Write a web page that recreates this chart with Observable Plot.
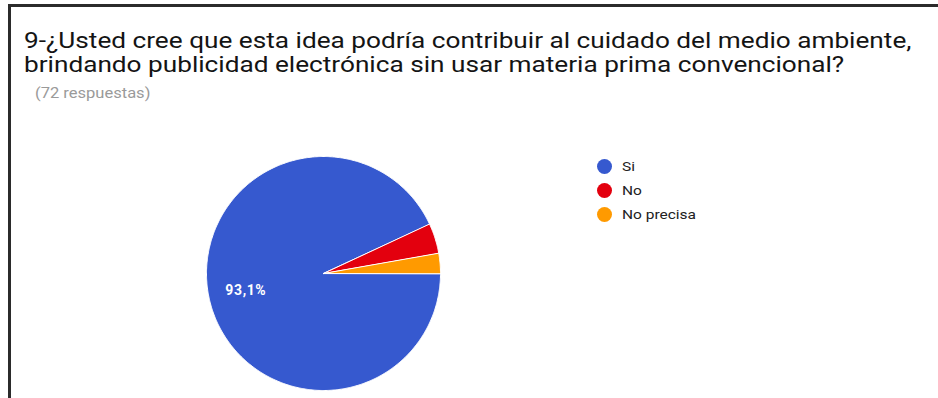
<!DOCTYPE html>
<html>
<head>
<meta charset="utf-8">
<script src="https://cdn.jsdelivr.net/npm/d3@7"></script>
<script src="https://cdn.jsdelivr.net/npm/@observablehq/plot@0.6"></script>
<style>
  html, body { margin: 0; padding: 0; background: #fff; }
  #wrap { position: relative; width: 938px; height: 398px; overflow: hidden; background: #fff; font-family: Roboto, "Liberation Sans", Arial, sans-serif; }
  #frame { position: absolute; left: 8px; top: 4px; right: -10px; bottom: -10px; border-top: 3px solid #2b2b2b; border-left: 3px solid #2b2b2b; }
  #title { position: absolute; left: 24px; top: 29px; font-size: 22px; line-height: 24px; color: #141414; white-space: nowrap; transform: scaleX(1.19); transform-origin: 0 0; }
  #sub { position: absolute; left: 35px; top: 85px; font-size: 14px; color: #9a9a9a; transform: scaleX(1.18); transform-origin: 0 0; white-space: nowrap; }
  #chart { position: absolute; left: 0; top: 0; }
  #legend { position: absolute; left: 597px; top: 154px; font-size: 13px; color: #222; }
  #legend .row { display: flex; align-items: center; height: 24px; }
  #legend .sw { width: 15px; height: 15px; border-radius: 50%; margin-right: 10px; }
  #legend .tx { display: inline-block; transform: scaleX(1.19); transform-origin: 0 50%; white-space: nowrap; }
</style>
</head>
<body>
<div id="wrap">
  <div id="chart"></div>
  <div id="frame"></div>
  <div id="title"></div>
  <div id="sub"></div>
  <div id="legend"></div>
</div>
<script>
const titleLines = [
  "9-¿Usted cree que esta idea podría contribuir al cuidado del medio ambiente,",
  "brindando publicidad electrónica sin usar materia prima convencional?"
];
const subtitle = "(72 respuestas)";
const categories = ["Si", "No", "No precisa"];
const counts = [67, 3, 2];
const colors = ["#3659cf", "#e3000e", "#ff9a00"];

document.getElementById("title").innerHTML = titleLines.join("<br>");
document.getElementById("sub").textContent = subtitle;

const total = d3.sum(counts);
const data = categories.map((c, i) => ({key: c, value: counts[i]}));
const arcs = d3.pie().sort(null).value(d => d.value)(data);

// polygon points for each slice (unit circle, clockwise from 3 o'clock)
const pts = [];
for (const a of arcs) {
  const n = Math.max(2, Math.ceil((a.endAngle - a.startAngle) / 0.01));
  pts.push({key: a.data.key, x: 0, y: 0});
  for (let k = 0; k <= n; k++) {
    const t = a.startAngle + (a.endAngle - a.startAngle) * k / n;
    pts.push({key: a.data.key, x: Math.cos(t), y: -Math.sin(t)});
  }
}
const labels = arcs.filter(a => a.data.value / total > 0.05).map(a => {
  const m = (a.startAngle + a.endAngle) / 2;
  return {x: 0.68 * Math.cos(m), y: -0.68 * Math.sin(m),
          text: d3.format(".1f")(100 * a.data.value / total).replace(".", ",") + "%"};
});

const R = 117, cx = 323, cy = 273, W = 938, H = 398;
const plot = Plot.plot({
  width: W, height: H, margin: 0,
  x: {domain: [-cx / R, (W - cx) / R], axis: null},
  y: {domain: [-(H - cy) / R, cy / R], axis: null},
  color: {domain: categories, range: colors},
  marks: [
    Plot.line(pts, {x: "x", y: "y", z: "key", fill: "key", stroke: "#fff", strokeWidth: 1, curve: "linear-closed"}),
    Plot.text(labels, {x: "x", y: "y", text: "text", fill: "#fff", fontSize: 14, fontWeight: "bold", fontFamily: "Roboto, Arial, sans-serif"})
  ],
  style: {background: "transparent"}
});
d3.select(plot).selectAll("text").attr("letter-spacing", "0.6px");
document.getElementById("chart").appendChild(plot);

const leg = document.getElementById("legend");
categories.forEach((c, i) => {
  const row = document.createElement("div");
  row.className = "row";
  row.innerHTML = `<span class="sw" style="background:${colors[i]}"></span><span class="tx">${c}</span>`;
  leg.appendChild(row);
});
</script>
</body>
</html>
